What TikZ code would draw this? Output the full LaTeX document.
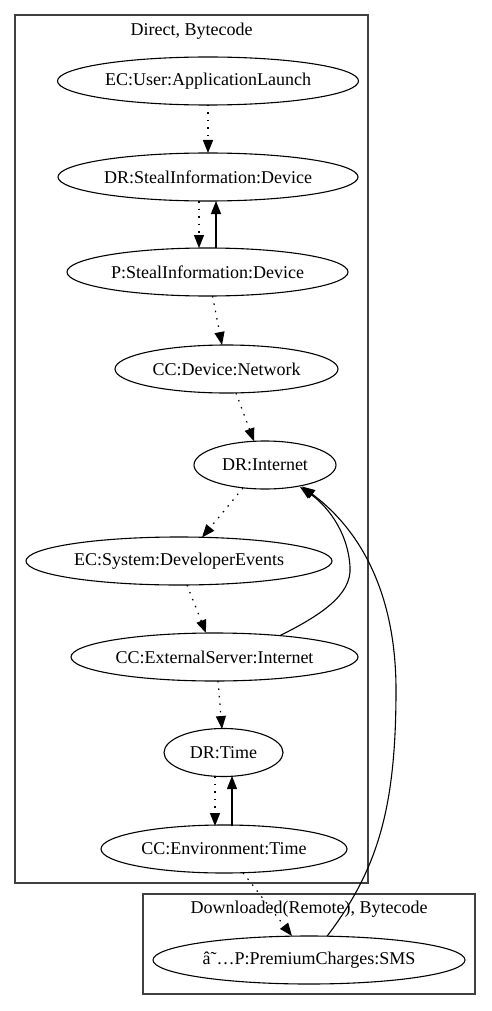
\documentclass[tikz,border=0pt]{standalone}
\usepackage{fontspec}
\setmainfont{Liberation Serif}
\usetikzlibrary{arrows.meta,calc,shapes.geometric}
\begin{document}
\begin{tikzpicture}[x=1pt,y=-1pt,
  nd/.style={ellipse,draw,line width=1.1pt,inner sep=0pt,minimum height=48pt,font=\fontsize{18}{20}\selectfont},
  clus/.style={draw=black!75,line width=1.4pt},
  ttl/.style={inner sep=0pt,font=\fontsize{18}{20}\selectfont},
  dotarrow/.style={line width=1.2pt,dash pattern=on 1.5pt off 6pt,-{Triangle[length=13pt,width=10pt]}},
  solarrow/.style={line width=1.1pt,-{Triangle[length=13pt,width=10pt]}}]
\useasboundingbox (0,0) rectangle (491,1011);
% clusters
\draw[clus] (15,15) rectangle (368,883);
\draw[clus] (143,894) rectangle (475,994);
\node[ttl] (t1) at (191.5,31) {Direct, Bytecode};
\node[ttl] (t2) at (309,909) {Downloaded(Remote), Bytecode};
% nodes
\node[nd,minimum width=301pt] (n1) at (208,81) {\makebox[0pt]{EC:User:ApplicationLaunch}};
\node[nd,minimum width=300pt] (n2) at (208,177) {\makebox[0pt]{DR:StealInformation:Device}};
\node[nd,minimum width=281pt] (n3) at (207.5,272) {\makebox[0pt]{P:StealInformation:Device}};
\node[nd,minimum width=223pt] (n4) at (226.5,369) {\makebox[0pt]{CC:Device:Network}};
\node[nd,minimum width=142pt] (n5) at (265,465) {\makebox[0pt]{DR:Internet}};
\node[nd,minimum width=306pt] (n6) at (179,561) {\makebox[0pt]{EC:System:DeveloperEvents}};
\node[nd,minimum width=287pt] (n7) at (214.5,657) {\makebox[0pt]{CC:ExternalServer:Internet}};
\node[nd,minimum width=119pt] (n8) at (223.5,752.5) {\makebox[0pt]{DR:Time}};
\node[nd,minimum width=246pt] (n9) at (224,849) {\makebox[0pt]{CC:Environment:Time}};
\node[nd,minimum width=312pt] (n10) at (309,960) {\makebox[0pt]{â˜…P:PremiumCharges:SMS}};
\coordinate (m8) at (350,567);
\coordinate (m13) at (396,690);
% edges
\draw[dotarrow] ($(n1.center)+(0,24)$) -- ($(n2.center)+(0,-24)$);
\draw[dotarrow] ($(n2.center)+(-9,24)$) -- ($(n3.center)+(-8.5,-24)$);
\draw[solarrow] ($(n3.center)+(8.5,-24)$) -- ($(n2.center)+(8,24)$);
\draw[dotarrow] ($(n3.center)+(5,24)$) -- ($(n4.center)+(-4.5,-24)$);
\draw[dotarrow] ($(n4.center)+(9.5,24)$) -- ($(n5.center)+(-11,-23.7)$);
\draw[dotarrow] ($(n5.center)+(-22,23)$) -- ($(n6.center)+(23,-23.5)$);
\draw[dotarrow] ($(n6.center)+(8,24)$) -- ($(n7.center)+(-8.5,-24)$);
\draw[solarrow] ($(n7.center)+(65.5,-21.4)$) .. controls +(40,-20) and +(2,28) .. (m8)
   .. controls +(-2,-37) and +(25,17) .. ($(n5.center)+(35,22)$);
\draw[dotarrow] ($(n7.center)+(3.5,24)$) -- ($(n8.center)+(-1.5,-23.5)$);
\draw[dotarrow] ($(n8.center)+(-8.5,23.5)$) -- ($(n9.center)+(-9,-23)$);
\draw[solarrow] ($(n9.center)+(8,-23)$) -- ($(n8.center)+(8.5,23.5)$);
\draw[dotarrow] ($(n9.center)+(19,23.7)$) -- ($(n10.center)+(-17,-24)$);
\draw[solarrow] ($(n10.center)+(18,-23.7)$) .. controls +(50,-66) and +(0,120) .. (m13)
   .. controls +(0,-90) and +(63,47) .. ($(n5.center)+(37,21.5)$);
\end{tikzpicture}
\end{document}
